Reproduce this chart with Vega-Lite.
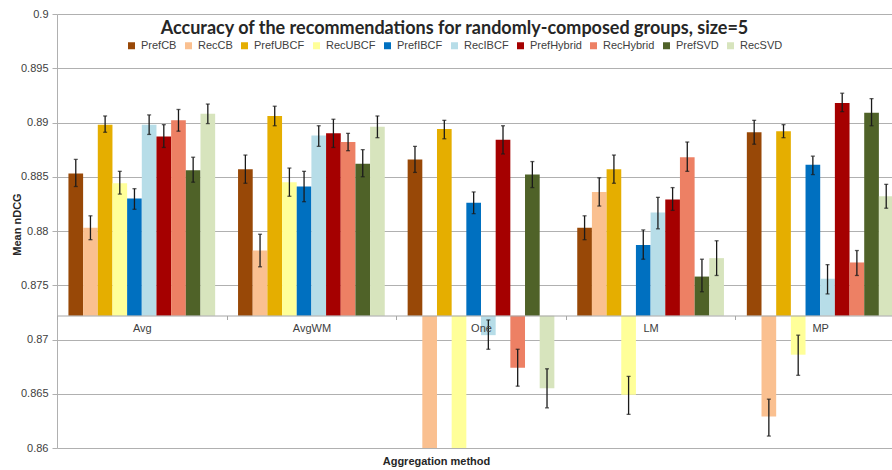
{
  "$schema": "https://vega.github.io/schema/vega-lite/v6.json",
  "width": 835,
  "height": 434,
  "autosize": {"type": "none"},
  "padding": {"left": 57, "top": 14, "right": 0, "bottom": 22},
  "background": "white",
  "title": {"text": "Accuracy of the recommendations for randomly-composed groups, size=5", "font": "Lato", "fontSize": 18, "fontWeight": "bold", "color": "#262626", "anchor": "middle", "frame": "group", "dx": -20, "dy": 27, "offset": -17, "baseline": "alphabetic"},
  "config": {"view": {"stroke": null}},
  "data": {"values": [
    {"g": "Avg", "s": "PrefCB", "v": 0.8853, "lo": 0.8841, "hi": 0.8866},
    {"g": "Avg", "s": "RecCB", "v": 0.8803, "lo": 0.8792, "hi": 0.8814},
    {"g": "Avg", "s": "PrefUBCF", "v": 0.8898, "lo": 0.8891, "hi": 0.8906},
    {"g": "Avg", "s": "RecUBCF", "v": 0.8844, "lo": 0.8834, "hi": 0.8855},
    {"g": "Avg", "s": "PrefIBCF", "v": 0.8830, "lo": 0.8820, "hi": 0.8839},
    {"g": "Avg", "s": "RecIBCF", "v": 0.8898, "lo": 0.8889, "hi": 0.8907},
    {"g": "Avg", "s": "PrefHybrid", "v": 0.8887, "lo": 0.8877, "hi": 0.8898},
    {"g": "Avg", "s": "RecHybrid", "v": 0.8902, "lo": 0.8892, "hi": 0.8912},
    {"g": "Avg", "s": "PrefSVD", "v": 0.8856, "lo": 0.8845, "hi": 0.8868},
    {"g": "Avg", "s": "RecSVD", "v": 0.8908, "lo": 0.8899, "hi": 0.8917},
    {"g": "AvgWM", "s": "PrefCB", "v": 0.8857, "lo": 0.8844, "hi": 0.8870},
    {"g": "AvgWM", "s": "RecCB", "v": 0.8782, "lo": 0.8767, "hi": 0.8797},
    {"g": "AvgWM", "s": "PrefUBCF", "v": 0.8906, "lo": 0.8897, "hi": 0.8915},
    {"g": "AvgWM", "s": "RecUBCF", "v": 0.8845, "lo": 0.8832, "hi": 0.8858},
    {"g": "AvgWM", "s": "PrefIBCF", "v": 0.8841, "lo": 0.8827, "hi": 0.8855},
    {"g": "AvgWM", "s": "RecIBCF", "v": 0.8888, "lo": 0.8878, "hi": 0.8897},
    {"g": "AvgWM", "s": "PrefHybrid", "v": 0.8890, "lo": 0.8877, "hi": 0.8903},
    {"g": "AvgWM", "s": "RecHybrid", "v": 0.8882, "lo": 0.8874, "hi": 0.8890},
    {"g": "AvgWM", "s": "PrefSVD", "v": 0.8862, "lo": 0.8850, "hi": 0.8875},
    {"g": "AvgWM", "s": "RecSVD", "v": 0.8896, "lo": 0.8886, "hi": 0.8906},
    {"g": "One", "s": "PrefCB", "v": 0.8866, "lo": 0.8854, "hi": 0.8878},
    {"g": "One", "s": "RecCB", "v": 0.8595, "lo": null, "hi": null},
    {"g": "One", "s": "PrefUBCF", "v": 0.8894, "lo": 0.8885, "hi": 0.8902},
    {"g": "One", "s": "RecUBCF", "v": 0.8595, "lo": null, "hi": null},
    {"g": "One", "s": "PrefIBCF", "v": 0.8826, "lo": 0.8816, "hi": 0.8836},
    {"g": "One", "s": "RecIBCF", "v": 0.8704, "lo": 0.8691, "hi": 0.8718},
    {"g": "One", "s": "PrefHybrid", "v": 0.8884, "lo": 0.8871, "hi": 0.8897},
    {"g": "One", "s": "RecHybrid", "v": 0.8674, "lo": 0.8657, "hi": 0.8691},
    {"g": "One", "s": "PrefSVD", "v": 0.8852, "lo": 0.8840, "hi": 0.8864},
    {"g": "One", "s": "RecSVD", "v": 0.8655, "lo": 0.8637, "hi": 0.8673},
    {"g": "LM", "s": "PrefCB", "v": 0.8803, "lo": 0.8792, "hi": 0.8814},
    {"g": "LM", "s": "RecCB", "v": 0.8836, "lo": 0.8823, "hi": 0.8849},
    {"g": "LM", "s": "PrefUBCF", "v": 0.8857, "lo": 0.8844, "hi": 0.8870},
    {"g": "LM", "s": "RecUBCF", "v": 0.8649, "lo": 0.8631, "hi": 0.8666},
    {"g": "LM", "s": "PrefIBCF", "v": 0.8787, "lo": 0.8774, "hi": 0.8801},
    {"g": "LM", "s": "RecIBCF", "v": 0.8817, "lo": 0.8802, "hi": 0.8831},
    {"g": "LM", "s": "PrefHybrid", "v": 0.8829, "lo": 0.8819, "hi": 0.8840},
    {"g": "LM", "s": "RecHybrid", "v": 0.8868, "lo": 0.8855, "hi": 0.8882},
    {"g": "LM", "s": "PrefSVD", "v": 0.8758, "lo": 0.8744, "hi": 0.8774},
    {"g": "LM", "s": "RecSVD", "v": 0.8775, "lo": 0.8759, "hi": 0.8791},
    {"g": "MP", "s": "PrefCB", "v": 0.8891, "lo": 0.8880, "hi": 0.8902},
    {"g": "MP", "s": "RecCB", "v": 0.8629, "lo": 0.8611, "hi": 0.8645},
    {"g": "MP", "s": "PrefUBCF", "v": 0.8892, "lo": 0.8886, "hi": 0.8898},
    {"g": "MP", "s": "RecUBCF", "v": 0.8686, "lo": 0.8667, "hi": 0.8704},
    {"g": "MP", "s": "PrefIBCF", "v": 0.8861, "lo": 0.8852, "hi": 0.8869},
    {"g": "MP", "s": "RecIBCF", "v": 0.8756, "lo": 0.8742, "hi": 0.8769},
    {"g": "MP", "s": "PrefHybrid", "v": 0.8918, "lo": 0.8910, "hi": 0.8927},
    {"g": "MP", "s": "RecHybrid", "v": 0.8771, "lo": 0.8759, "hi": 0.8782},
    {"g": "MP", "s": "PrefSVD", "v": 0.8909, "lo": 0.8897, "hi": 0.8922},
    {"g": "MP", "s": "RecSVD", "v": 0.8832, "lo": 0.8821, "hi": 0.8843}
  ]},
  "encoding": {
    "x": {
      "field": "g", "type": "nominal",
      "scale": {"domain": ["Avg", "AvgWM", "One", "LM", "MP"], "paddingInner": 0, "paddingOuter": 0, "range": [0, 848]},
      "axis": {"orient": "bottom", "offset": -132.5, "tickBand": "extent", "tickSize": 4, "domainColor": "#A6A6A6", "tickColor": "#A6A6A6", "labelPadding": 3, "labelFont": "Liberation Sans", "labelFontSize": 11, "labelColor": "#404040", "labelAngle": 0, "grid": false, "zindex": 1, "title": "Aggregation method", "titleFont": "Liberation Sans", "titleFontSize": 11, "titleFontWeight": "bold", "titleColor": "#262626", "titleX": 379, "titleY": 146, "titleBaseline": "middle", "titleAlign": "center"}
    },
    "xOffset": {
      "field": "s", "type": "nominal",
      "scale": {"domain": ["PrefCB", "RecCB", "PrefUBCF", "RecUBCF", "PrefIBCF", "RecIBCF", "PrefHybrid", "RecHybrid", "PrefSVD", "RecSVD"], "paddingInner": 0, "paddingOuter": 0.78}
    }
  },
  "layer": [
    {
      "mark": {"type": "bar", "clip": true},
      "encoding": {
        "y": {
          "field": "v", "type": "quantitative",
          "scale": {"domain": [0.86, 0.9], "nice": false, "zero": false},
          "axis": {"values": [0.86, 0.865, 0.87, 0.875, 0.88, 0.885, 0.89, 0.895, 0.9], "format": ".3~f", "grid": true, "gridColor": "#B0B0B0", "domainColor": "#B0B0B0", "tickColor": "#B0B0B0", "tickSize": 5, "labelPadding": 4, "labelFont": "Liberation Sans", "labelFontSize": 11, "labelColor": "#404040", "title": "Mean nDCG", "titleFont": "Liberation Sans", "titleFontSize": 11, "titleFontWeight": "bold", "titleColor": "#262626", "titleAngle": 270, "titleX": -40, "titleY": 210, "titleAlign": "center", "titleBaseline": "middle"}
        },
        "y2": {"datum": 0.8722},
        "color": {
          "field": "s", "type": "nominal",
          "scale": {"domain": ["PrefCB", "RecCB", "PrefUBCF", "RecUBCF", "PrefIBCF", "RecIBCF", "PrefHybrid", "RecHybrid", "PrefSVD", "RecSVD"], "range": ["#984807", "#FAC090", "#E5AE00", "#FFFF99", "#0070C0", "#B7DDE8", "#A50000", "#ED8064", "#4F6228", "#D7E4BD"]},
          "legend": {"orient": "none", "legendX": 69, "legendY": 26, "direction": "horizontal", "title": null, "symbolType": "square", "symbolSize": 49, "symbolStrokeWidth": 0, "labelFont": "Liberation Sans", "labelFontSize": 11, "labelColor": "#404040", "columnPadding": 6, "labelOffset": 4}
        }
      }
    },
    {
      "mark": {"type": "rule", "color": "#1a1a1a", "strokeWidth": 1.3},
      "encoding": {"y": {"field": "lo", "type": "quantitative"}, "y2": {"field": "hi"}}
    },
    {
      "mark": {"type": "tick", "color": "#1a1a1a", "thickness": 1.3, "size": 4, "orient": "horizontal"},
      "encoding": {"y": {"field": "lo", "type": "quantitative"}}
    },
    {
      "mark": {"type": "tick", "color": "#1a1a1a", "thickness": 1.3, "size": 4, "orient": "horizontal"},
      "encoding": {"y": {"field": "hi", "type": "quantitative"}}
    }
  ]
}
